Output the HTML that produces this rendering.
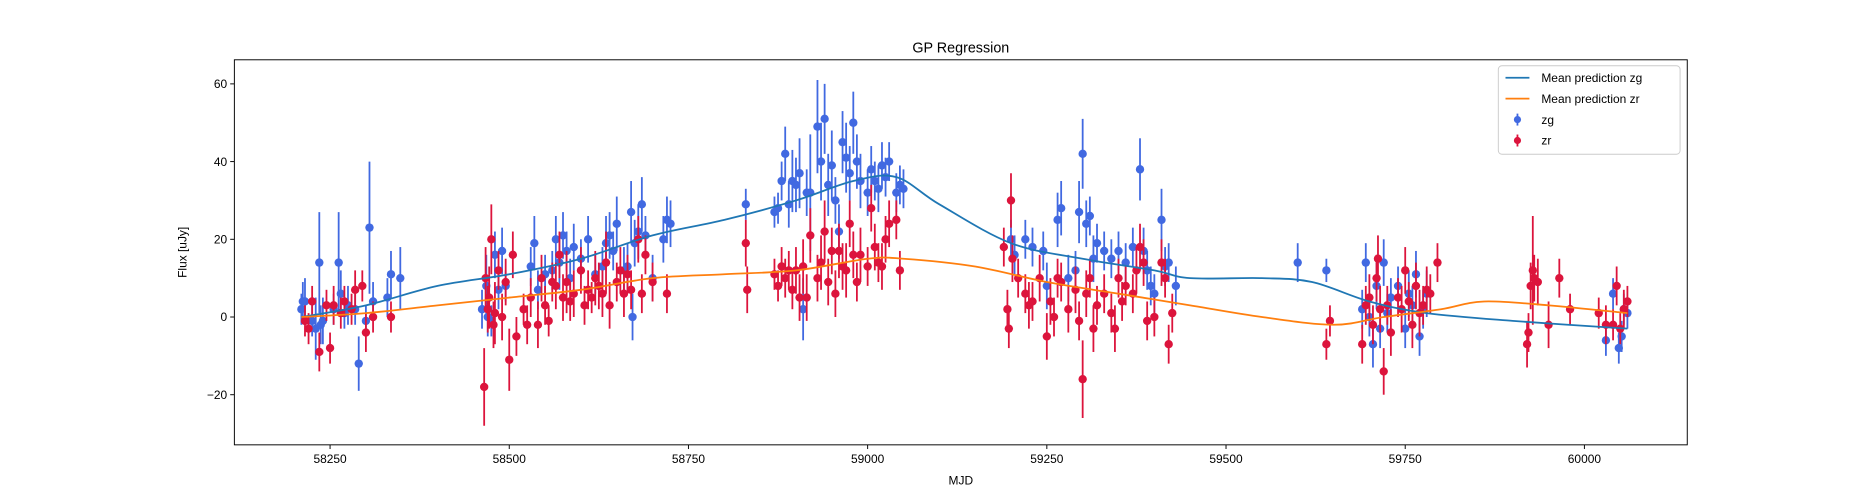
<!DOCTYPE html>
<html><head><meta charset="utf-8">
<style>
body{margin:0;background:#fff;}
svg{display:block;font-family:"Liberation Sans","DejaVu Sans",sans-serif;}
</style></head>
<body>
<svg id="chart" width="1875" height="500" viewBox="0 0 1568 418.13"></svg>
<script>
const zgMjd=[58210,58212,58215,58225,58230,58235,58237,58240,58255,58262,58265,58270,58275,58285,58290,58300,58305,58310,58330,58335,58348,
58462,58468,58470,58475,58480,58485,58490,58495,58530,58535,58540,58550,58560,58565,58570,58575,58580,58585,58590,58600,58610,58620,58630,58635,58640,58645,58650,58660,58665,58670,58672,58675,58680,58685,58690,58700,58715,58720,58725,
58830,58870,58875,58880,58885,58890,58895,58900,58905,58910,58915,58920,58930,58935,58940,58945,58950,58955,58960,58965,58970,58975,58980,58985,58990,59000,59005,59010,59015,59020,59025,59030,59040,59045,59050,
59200,59205,59220,59230,59245,59250,59265,59270,59280,59290,59295,59300,59305,59310,59315,59320,59330,59340,59350,59360,59370,59380,59385,59390,59395,59400,59410,59415,59420,59430,
59600,59640,59690,59695,59700,59705,59710,59715,59720,59725,59730,59740,59750,59755,59760,59765,59770,59775,59780,
60030,60040,60048,60052,60055,60060];
const zgFlux=[2,4,4,-1,-3,14,-2,-1,2,14,6,1,3,2,-12,-1,23,4,5,11,10,
2,8,0,-1,16,7,17,8,13,19,7,11,12,20,14,21,17,10,18,15,20,11,13,19,21,17,24,12,13,27,0,19,22,29,21,10,20,25,24,
29,27,28,35,42,29,35,34,37,2,32,32,49,40,51,34,39,30,22,45,41,37,50,40,35,32,38,35,33,39,36,40,32,34,33,
20,16,20,18,17,8,25,28,10,12,27,42,24,26,15,19,17,15,17,14,18,38,17,12,8,6,25,13,14,8,
14,12,2,14,0,-7,8,-3,14,1,5,8,-3,6,3,11,-5,2,6,
-6,6,-8,-5,2,1];
const zgErr=[4,5,6,4,8,13,5,6,4,13,6,4,5,4,7,4,17,5,5,6,8,
5,8,5,4,6,5,6,4,5,7,5,5,5,6,7,6,5,5,6,5,6,5,5,7,6,5,7,6,6,8,6,6,7,7,5,6,6,6,6,
4,4,4,5,7,6,8,7,9,8,6,15,12,10,9,8,9,6,7,8,9,7,8,7,7,6,6,5,6,6,5,5,5,5,5,
5,5,5,5,5,6,7,7,6,5,8,9,6,5,6,5,5,5,5,5,5,8,6,5,5,5,8,5,5,5,
5,3,5,5,5,6,6,5,6,5,5,5,5,6,5,6,5,5,6,
4,4,4,4,4,4];
const zrMjd=[58215,58220,58225,58235,58245,58250,58255,58265,58270,58280,58285,58295,58300,58310,58335,
58465,58467,58470,58472,58475,58478,58480,58485,58490,58495,58500,58505,58510,58520,58525,58530,58540,58545,58550,58555,58560,58565,58570,58575,58580,58585,58590,58600,58605,58610,58615,58620,58625,58630,58635,58640,58650,58655,58660,58665,58670,58680,58685,58690,58700,58720,
58830,58832,58870,58875,58880,58885,58890,58895,58900,58905,58910,58915,58920,58930,58935,58940,58945,58950,58955,58960,58965,58970,58975,58980,58985,58990,59000,59005,59010,59015,59020,59025,59030,59040,59045,
59190,59195,59197,59200,59202,59210,59220,59225,59230,59240,59250,59255,59260,59265,59270,59280,59290,59295,59300,59305,59310,59315,59320,59330,59340,59345,59350,59355,59360,59370,59375,59380,59385,59390,59400,59410,59415,59420,59425,
59640,59645,59690,59695,59700,59705,59710,59712,59715,59720,59725,59730,59740,59745,59750,59755,59760,59765,59770,59775,59780,59785,59795,
59920,59922,59925,59928,59930,59935,59950,59965,59980,60020,60030,60040,60045,60050,60055,60060];
const zrFlux=[-1,-3,4,-9,3,-8,3,1,4,2,7,8,-4,0,0,
-18,10,2,5,20,-2,1,12,0,9,-11,16,-5,2,-2,5,-2,10,3,-1,9,8,16,5,9,4,6,12,3,7,5,10,8,6,14,3,9,12,6,11,7,20,6,16,9,6,
19,7,11,8,13,10,12,7,12,5,13,5,21,10,14,22,9,17,6,17,13,12,24,16,9,16,13,28,18,14,13,20,24,25,12,
18,2,-3,30,15,10,6,3,4,10,-5,4,0,10,9,2,7,-1,-16,6,10,-3,3,6,1,-3,10,4,8,6,12,18,14,-1,0,14,10,-7,1,
-7,-1,-7,3,5,-2,10,15,2,-14,3,-4,5,2,12,4,-2,8,1,3,7,6,14,
-7,-4,8,12,10,9,-2,10,2,1,-2,-2,8,-3,2,4];
const zrErr=[4,4,4,5,4,4,5,4,4,4,5,4,5,4,4,
10,8,6,8,9,6,8,5,6,6,8,6,5,4,5,5,6,6,5,4,5,6,6,6,8,5,6,6,5,5,4,7,6,6,8,6,5,6,6,5,5,6,5,5,5,5,
6,6,4,4,5,5,5,5,6,6,7,6,7,6,7,8,6,6,6,7,6,7,6,6,5,7,5,6,6,5,6,6,6,5,5,
5,5,5,7,6,5,5,6,5,6,6,6,5,5,5,6,6,5,10,6,5,6,5,5,5,6,5,5,5,5,6,6,6,5,5,6,5,5,5,
4,4,5,5,6,5,6,6,6,6,5,6,5,6,6,5,6,6,6,5,6,5,5,
6,5,6,14,6,6,6,5,4,4,5,4,5,4,5,4];
const meanZgX=[58210,58300,58400,58500,58600,58700,58800,58900,58980,59040,59100,59200,59300,59400,59450,59550,59620,59700,59780,59900,60060];
const meanZgY=[0,3,8,11,15,21,25,30,35,36,29,19,15,12,10,10,9,4,1,-1,-3];
const meanZrX=[58210,58300,58400,58500,58600,58700,58800,58900,59000,59050,59150,59250,59350,59450,59550,59650,59720,59800,59860,59950,60060];
const meanZrY=[0,1,3,5,7,10,11,12,15,15,13,9,6,3,0,-2,0,2,4,3,1];
const xTicks=[58250,58500,58750,59000,59250,59500,59750,60000];
const yTicks=[-20,0,20,40,60];

const L=196,R=1411,T=50,B=372;
const X0=58116.5,X1=60143.5,Y0=-32.9,Y1=66.2;
const sx=v=>L+(v-X0)/(X1-X0)*(R-L);
const sy=v=>B-(v-Y0)/(Y1-Y0)*(B-T);
const svg=document.getElementById('chart');
const NS='http://www.w3.org/2000/svg';
function mk(tag,attrs,parent){const e=document.createElementNS(NS,tag);for(const k in attrs)e.setAttribute(k,attrs[k]);(parent||svg).appendChild(e);return e;}

const title=mk('text',{x:(L+R)/2,y:44,'text-anchor':'middle','font-size':12,fill:'#000'});
title.textContent='GP Regression';



function errbars(xs,ys,es,color,name){
  const g=mk('g',{});
  
  
  for(let i=0;i<xs.length;i++){
    const l=mk('line',{x1:sx(xs[i]),x2:sx(xs[i]),y1:sy(ys[i]-es[i]),y2:sy(ys[i]+es[i]),stroke:color,'stroke-width':1.5},g);
    
    
  }
  for(let i=0;i<xs.length;i++){
    const c=mk('circle',{cx:sx(xs[i]),cy:sy(ys[i]),r:3.5,fill:color},g);
    
    
  }
}
function curve(xs,ys,color,name){
  const p=xs.map((x,i)=>[sx(x),sy(ys[i])]);
  let d='M'+p[0][0]+','+p[0][1];
  for(let i=0;i<p.length-1;i++){
    const p0=p[Math.max(0,i-1)],p1=p[i],p2=p[i+1],p3=p[Math.min(p.length-1,i+2)];
    const c1=[p1[0]+(p2[0]-p0[0])/6,p1[1]+(p2[1]-p0[1])/6];
    const c2=[p2[0]-(p3[0]-p1[0])/6,p2[1]-(p3[1]-p1[1])/6];
    d+=` C${c1[0]},${c1[1]} ${c2[0]},${c2[1]} ${p2[0]},${p2[1]}`;
  }
  const path=mk('path',{d:d,fill:'none',stroke:color,'stroke-width':1.5});
  
  
}
errbars(zgMjd,zgFlux,zgErr,'#4169e1','zg');
errbars(zrMjd,zrFlux,zrErr,'#dc143c','zr');
curve(meanZgX,meanZgY,'#1f77b4','mean-prediction-zg');
curve(meanZrX,meanZrY,'#ff7f0e','mean-prediction-zr');

const frame=mk('rect',{x:L,y:T,width:R-L,height:B-T,fill:'none',stroke:'#000','stroke-width':0.8});



xTicks.forEach(v=>{
  const x=sx(v);
  const t=mk('line',{x1:x,x2:x,y1:B,y2:B+3.5,stroke:'#000','stroke-width':0.8});
  
  
  const tx=mk('text',{x:x,y:B+15,'text-anchor':'middle','font-size':10});
  tx.textContent=v;
  
  
});
yTicks.forEach(v=>{
  const y=sy(v);
  const t=mk('line',{x1:L-3.5,x2:L,y1:y,y2:y,stroke:'#000','stroke-width':0.8});
  
  
  const tx=mk('text',{x:L-6,y:y+3.5,'text-anchor':'end','font-size':10});
  tx.textContent=v<0?'\u2212'+Math.abs(v):v;
  
  
});
const xl=mk('text',{x:(L+R)/2,y:405,'text-anchor':'middle','font-size':10});
xl.textContent='MJD';


const yl=mk('text',{x:156,y:(T+B)/2,'text-anchor':'middle','font-size':10,transform:`rotate(-90 156 ${(T+B)/2})`});
yl.textContent='Flux [uJy]';



const lg=mk('g',{});


mk('rect',{x:1253,y:55,width:152,height:74,rx:3,fill:'#fff',stroke:'#ccc','stroke-width':0.8},lg);
const entries=[['line','#1f77b4','Mean prediction zg'],['line','#ff7f0e','Mean prediction zr'],['pt','#4169e1','zg'],['pt','#dc143c','zr']];
entries.forEach((e,i)=>{
  const y=65+i*17.5;
  const g=mk('g',{},lg);
  
  
  if(e[0]==='line'){mk('line',{x1:1259,x2:1279,y1:y,y2:y,stroke:e[1],'stroke-width':1.5},g);}
  else{mk('line',{x1:1269,x2:1269,y1:y-5,y2:y+5,stroke:e[1],'stroke-width':1.5},g);mk('circle',{cx:1269,cy:y,r:3,fill:e[1]},g);}
  const t=mk('text',{x:1289,y:y+3.5,'font-size':10},g);
  t.textContent=e[2];
});
</script>
</body></html>
